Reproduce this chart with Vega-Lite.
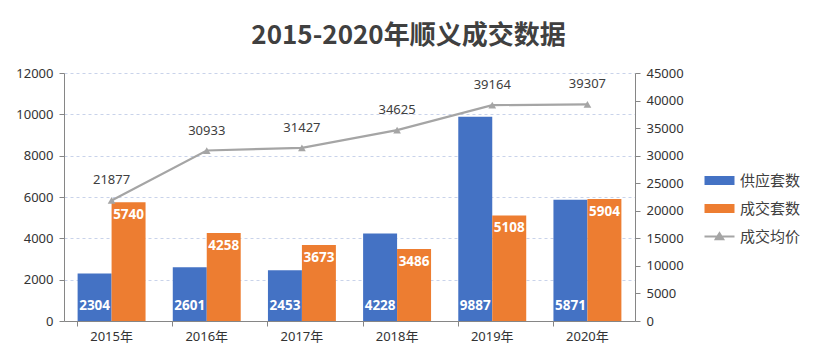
{
  "$schema": "https://vega.github.io/schema/vega-lite/v6.json",
  "width": 571,
  "height": 248,
  "autosize": {"type": "none"},
  "padding": {"left": 64, "top": 73, "right": 181, "bottom": 42},
  "background": "white",
  "title": {
    "text": "2015-2020年顺义成交数据",
    "anchor": "middle",
    "dx": 59,
    "offset": 18,
    "font": "Noto Sans CJK SC",
    "fontSize": 26,
    "fontWeight": "bold",
    "color": "#404040"
  },
  "config": {
    "view": {"stroke": null},
    "axis": {
      "labelFont": "Noto Sans, Noto Sans CJK SC",
      "labelFontSize": 13,
      "labelColor": "#333333",
      "domainColor": "#868686",
      "tickColor": "#868686",
      "gridColor": "#c9d3ea",
      "gridDash": [3, 3]
    }
  },
  "datasets": {
    "bars": [
      {"year": "2015年", "series": "供应套数", "value": 2304},
      {"year": "2015年", "series": "成交套数", "value": 5740},
      {"year": "2016年", "series": "供应套数", "value": 2601},
      {"year": "2016年", "series": "成交套数", "value": 4258},
      {"year": "2017年", "series": "供应套数", "value": 2453},
      {"year": "2017年", "series": "成交套数", "value": 3673},
      {"year": "2018年", "series": "供应套数", "value": 4228},
      {"year": "2018年", "series": "成交套数", "value": 3486},
      {"year": "2019年", "series": "供应套数", "value": 9887},
      {"year": "2019年", "series": "成交套数", "value": 5108},
      {"year": "2020年", "series": "供应套数", "value": 5871},
      {"year": "2020年", "series": "成交套数", "value": 5904}
    ],
    "price": [
      {"year": "2015年", "series": "成交均价", "price": 21877},
      {"year": "2016年", "series": "成交均价", "price": 30933},
      {"year": "2017年", "series": "成交均价", "price": 31427},
      {"year": "2018年", "series": "成交均价", "price": 34625},
      {"year": "2019年", "series": "成交均价", "price": 39164},
      {"year": "2020年", "series": "成交均价", "price": 39307}
    ]
  },
  "encoding": {
    "x": {
      "field": "year",
      "type": "nominal",
      "sort": null,
      "title": null,
      "scale": {"paddingInner": 0.286, "paddingOuter": 0.143},
      "axis": {"labelAngle": 0, "bandPosition": 0, "tickSize": 5, "labelPadding": 4, "grid": false}
    }
  },
  "layer": [
    {
      "data": {"name": "bars"},
      "encoding": {
        "xOffset": {"field": "series", "type": "nominal", "scale": {"domain": ["供应套数", "成交套数"], "paddingInner": 0, "paddingOuter": 0}},
        "y": {
          "field": "value",
          "type": "quantitative",
          "title": null,
          "scale": {"domain": [0, 12000], "nice": false},
          "axis": {"values": [0, 2000, 4000, 6000, 8000, 10000, 12000], "format": "d", "tickSize": 5, "labelPadding": 6, "grid": true, "orient": "left"}
        }
      },
      "layer": [
        {
          "mark": {"type": "bar"},
          "encoding": {
            "color": {
              "field": "series",
              "type": "nominal",
              "scale": {"domain": ["供应套数", "成交套数", "成交均价"], "range": ["#4472c4", "#ed7d31", "#a5a5a5"]},
              "legend": {
                "title": null,
                "orient": "none",
                "legendX": 648,
                "legendY": 100,
                "symbolSize": 225,
                "labelOffset": 13,
                "rowPadding": 12,
                "labelFont": "Noto Sans CJK SC",
                "labelFontSize": 15,
                "labelColor": "#404040",
                "encode": {
                  "symbols": {
                    "update": {
                      "shape": {"signal": "datum.value === '成交均价' ? 'M-2,0H2M-0.5,0.35L0,-0.45L0.5,0.35Z' : 'M-2,-0.6H2V0.6H-2Z'"},
                      "fill": {"scale": "color", "field": "value"},
                      "stroke": {"scale": "color", "field": "value"},
                      "strokeWidth": {"signal": "datum.value === '成交均价' ? 2 : 0"},
                      "opacity": {"value": 1}
                    }
                  }
                }
              }
            }
          }
        },
        {
          "transform": [{"filter": "datum.series === '供应套数'"}],
          "mark": {"type": "text", "baseline": "bottom", "dy": -8, "color": "white", "font": "Noto Sans", "fontSize": 13.5, "fontWeight": "bold"},
          "encoding": {
            "y": {"datum": 0},
            "text": {"field": "value", "type": "nominal"}
          }
        },
        {
          "transform": [{"filter": "datum.series === '成交套数'"}],
          "mark": {"type": "text", "baseline": "top", "dy": 6, "color": "white", "font": "Noto Sans", "fontSize": 13.5, "fontWeight": "bold"},
          "encoding": {
            "text": {"field": "value", "type": "nominal"}
          }
        }
      ]
    },
    {
      "data": {"name": "price"},
      "encoding": {
        "y": {
          "field": "price",
          "type": "quantitative",
          "title": null,
          "scale": {"domain": [0, 45000], "nice": false},
          "axis": {"orient": "right", "values": [0, 5000, 10000, 15000, 20000, 25000, 30000, 35000, 40000, 45000], "format": "d", "tickSize": 5, "labelPadding": 6, "grid": false}
        }
      },
      "layer": [
        {
          "mark": {"type": "line", "color": "#a5a5a5", "strokeWidth": 2.2, "point": {"shape": "triangle-up", "size": 60, "filled": true, "color": "#a5a5a5"}},
          "encoding": {
            "color": {"field": "series", "type": "nominal"}
          }
        },
        {
          "mark": {"type": "text", "baseline": "middle", "dy": -20, "color": "#404040", "font": "Noto Sans", "fontSize": 13},
          "encoding": {
            "text": {"field": "price", "type": "nominal"}
          }
        }
      ]
    }
  ],
  "resolve": {"scale": {"y": "independent"}}
}
